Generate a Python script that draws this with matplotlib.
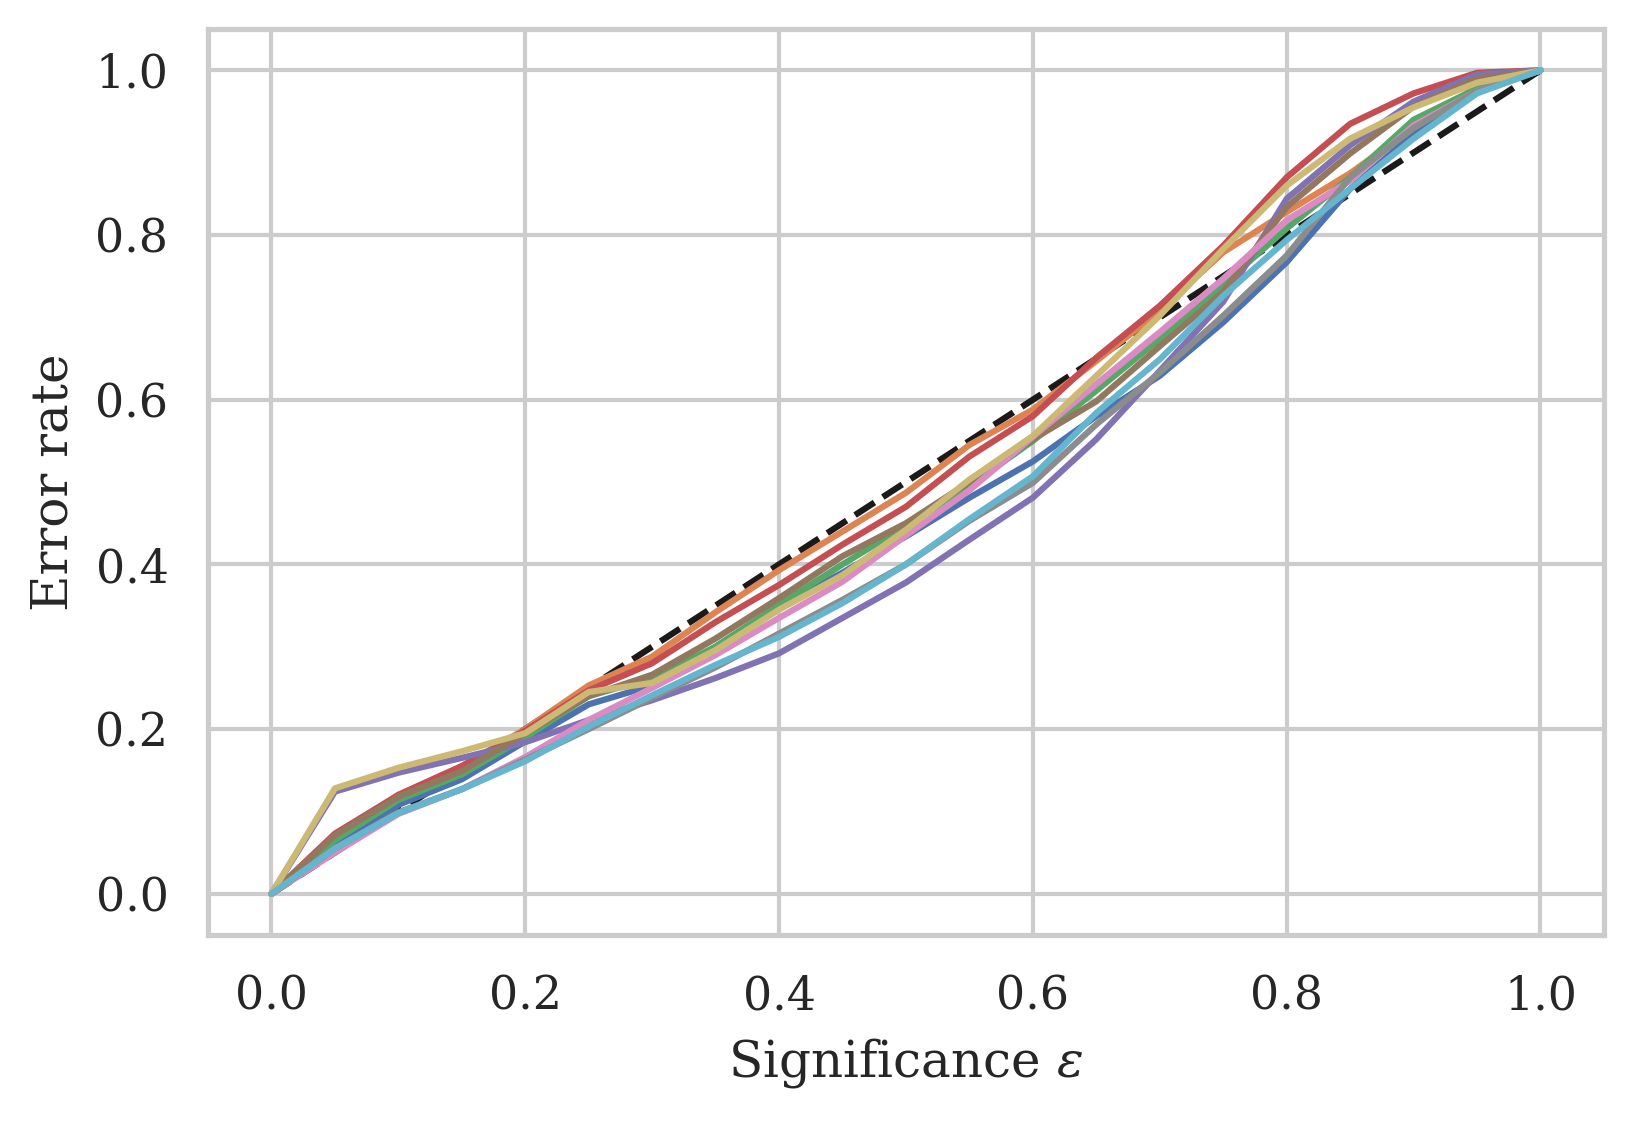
import numpy as np
import matplotlib
matplotlib.use("Agg")
import matplotlib.pyplot as plt
import seaborn as sns

sns.set_theme(style="whitegrid", palette="deep")
plt.rcParams['font.family'] = ['DejaVu Serif']
plt.rcParams['mathtext.fontset'] = 'dejavuserif'

significance = [0.0, 0.05, 0.1, 0.15, 0.2, 0.25, 0.3, 0.35, 0.4, 0.45, 0.5,
                0.55, 0.6, 0.65, 0.7, 0.75, 0.8, 0.85, 0.9, 0.95, 1.0]

s_blue   = [0, 0.058, 0.108, 0.139, 0.185, 0.230, 0.253, 0.300, 0.349, 0.390, 0.434,
            0.481, 0.525, 0.580, 0.629, 0.694, 0.767, 0.856, 0.923, 0.975, 1.0]
s_orange = [0, 0.070, 0.120, 0.155, 0.200, 0.253, 0.288, 0.342, 0.393, 0.440, 0.487,
            0.545, 0.588, 0.647, 0.708, 0.779, 0.828, 0.875, 0.930, 0.980, 1.0]
s_green  = [0, 0.065, 0.114, 0.145, 0.190, 0.240, 0.262, 0.300, 0.351, 0.400, 0.447,
            0.495, 0.550, 0.611, 0.674, 0.740, 0.808, 0.870, 0.940, 0.978, 1.0]
s_red    = [0, 0.073, 0.120, 0.155, 0.198, 0.247, 0.280, 0.330, 0.375, 0.424, 0.470,
            0.531, 0.580, 0.651, 0.714, 0.787, 0.870, 0.935, 0.972, 0.997, 1.0]
s_purple = [0, 0.124, 0.147, 0.165, 0.184, 0.211, 0.235, 0.262, 0.292, 0.335, 0.378,
            0.430, 0.481, 0.552, 0.635, 0.719, 0.844, 0.909, 0.962, 0.995, 1.0]
s_brown  = [0, 0.071, 0.118, 0.149, 0.195, 0.240, 0.266, 0.310, 0.359, 0.410, 0.450,
            0.500, 0.552, 0.598, 0.665, 0.731, 0.834, 0.899, 0.956, 0.990, 1.0]
s_pink   = [0, 0.050, 0.097, 0.127, 0.166, 0.211, 0.250, 0.290, 0.335, 0.379, 0.435,
            0.490, 0.555, 0.619, 0.682, 0.747, 0.818, 0.866, 0.933, 0.975, 1.0]
s_gray   = [0, 0.055, 0.099, 0.127, 0.163, 0.200, 0.238, 0.275, 0.316, 0.357, 0.400,
            0.453, 0.499, 0.570, 0.633, 0.702, 0.775, 0.870, 0.930, 0.975, 1.0]
s_khaki  = [0, 0.128, 0.153, 0.173, 0.195, 0.245, 0.256, 0.296, 0.345, 0.387, 0.442,
            0.503, 0.556, 0.629, 0.702, 0.783, 0.860, 0.917, 0.955, 0.985, 1.0]
s_cyan   = [0, 0.055, 0.098, 0.127, 0.161, 0.203, 0.241, 0.278, 0.312, 0.353, 0.400,
            0.455, 0.507, 0.584, 0.649, 0.726, 0.794, 0.856, 0.917, 0.972, 1.0]

series = [s_blue, s_orange, s_green, s_red, s_purple,
          s_brown, s_pink, s_gray, s_khaki, s_cyan]

fig = plt.figure(figsize=(1633/300, 1121/300), dpi=300)
ax = fig.add_axes([0.1274, 0.166, 0.9822 - 0.1274, 0.974 - 0.166])

ax.plot([0, 1], [0, 1], 'k--', lw=1.5, zorder=2)
colors = sns.color_palette("deep", 10)
for s, c in zip(series, colors):
    ax.plot(significance, s, color=c, lw=1.5, zorder=2)

ax.set_xticks([0.0, 0.2, 0.4, 0.6, 0.8, 1.0])
ax.set_yticks([0.0, 0.2, 0.4, 0.6, 0.8, 1.0])
ax.tick_params(labelsize=11)
ax.set_xlabel(r"Significance $\varepsilon$", fontsize=12)
ax.set_ylabel("Error rate", fontsize=12)

fig.savefig("out.png", dpi=300)
